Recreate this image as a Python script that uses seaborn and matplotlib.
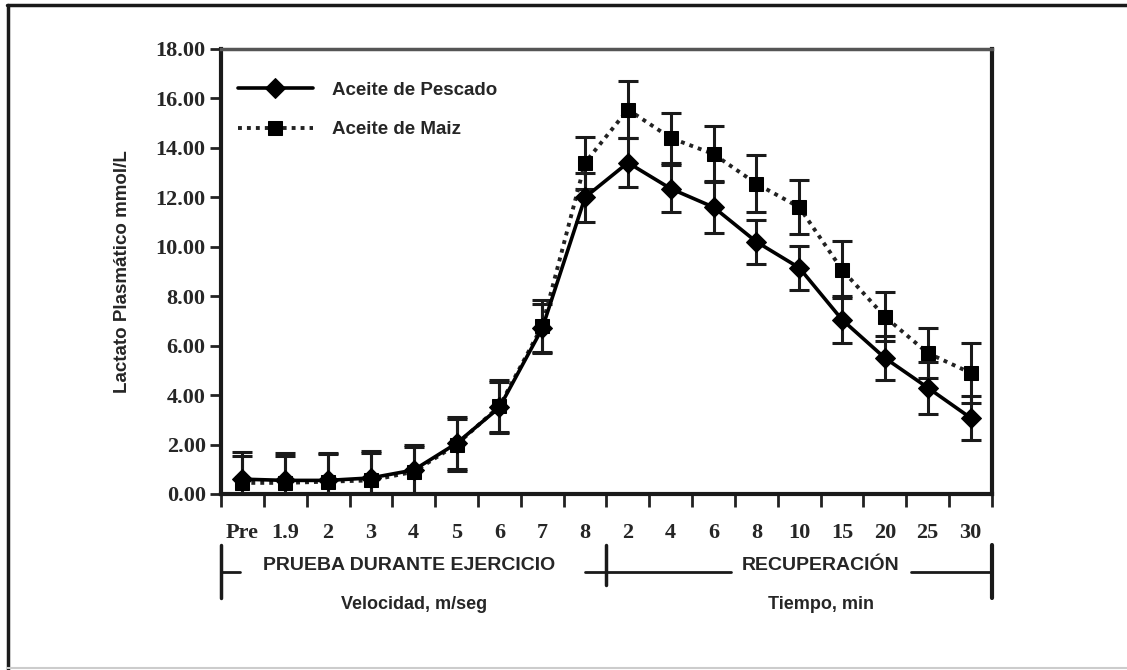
import numpy as np
import pandas as pd
import matplotlib
matplotlib.use("Agg")
import matplotlib.pyplot as plt
import matplotlib.transforms as mtransforms
from matplotlib.lines import Line2D
import seaborn as sns

labels = ["Pre", "1.9", "2", "3", "4", "5", "6", "7", "8",
          "2", "4", "6", "8", "10", "15", "20", "25", "30"]
fish = [0.6, 0.55, 0.55, 0.65, 0.97, 2.05, 3.5, 6.7, 12.0,
        13.4, 12.35, 11.6, 10.2, 9.15, 7.05, 5.5, 4.3, 3.08]
fish_err = [1.1, 1.1, 1.1, 1.1, 1.0, 1.05, 1.05, 1.0, 1.0,
            1.0, 0.95, 1.05, 0.9, 0.9, 0.95, 0.9, 1.05, 0.9]
maize = [0.45, 0.45, 0.5, 0.55, 0.9, 2.0, 3.55, 6.8, 13.4,
         15.55, 14.4, 13.75, 12.55, 11.6, 9.07, 7.17, 5.7, 4.9]
maize_err = [1.1, 1.1, 1.1, 1.1, 1.0, 1.05, 1.05, 1.05, 1.05,
             1.15, 1.0, 1.15, 1.15, 1.1, 1.15, 1.0, 1.0, 1.2]
series_names = ["Aceite de Pescado", "Aceite de Maiz"]

pos = np.arange(len(labels))
df_fish = pd.DataFrame({"pos": pos, "value": fish, "err": fish_err})
df_maize = pd.DataFrame({"pos": pos, "value": maize, "err": maize_err})

sns.set_style("white")
plt.rcParams['font.family'] = ['Liberation Sans', 'DejaVu Sans']

fig = plt.figure(figsize=(11.27, 6.7), dpi=100)
ax = fig.add_axes([0.1961, 0.2627, 0.6841, 0.6642])

# error bars first so lines/markers sit on top
ax.errorbar(df_maize["pos"], df_maize["value"], yerr=df_maize["err"], fmt="none",
            ecolor="#1a1a1a", elinewidth=2.2, capsize=7, capthick=2.2, zorder=2)
ax.errorbar(df_fish["pos"], df_fish["value"], yerr=df_fish["err"], fmt="none",
            ecolor="#1a1a1a", elinewidth=2.2, capsize=7, capthick=2.2, zorder=2)

sns.lineplot(data=df_maize, x="pos", y="value", ax=ax, color="#222222",
             linestyle=(0, (1, 1.3)), linewidth=2.8, marker="s", markersize=10,
             markeredgecolor="black", markerfacecolor="black",
             label=series_names[1], zorder=3)
sns.lineplot(data=df_fish, x="pos", y="value", ax=ax, color="black",
             linewidth=2.6, marker="D", markersize=10,
             markeredgecolor="black", markerfacecolor="black",
             label=series_names[0], zorder=4)

ax.set_xlim(-0.5, len(labels) - 0.5)
ax.set_ylim(0, 18)
ax.set_yticks(np.arange(0, 18.1, 2))
ax.set_yticklabels([f"{v:.2f}" for v in np.arange(0, 18.1, 2)],
                   fontfamily="Liberation Serif", fontweight="bold", fontsize=16)
ax.set_xticks(pos)
ax.set_xticklabels(labels, fontfamily="Liberation Serif", fontweight="bold", fontsize=16)
ax.set_xticks(np.arange(-0.5, len(labels), 1), minor=True)
ax.tick_params(axis="both", which="both", bottom=True, left=True)
ax.tick_params(axis="x", which="major", length=0, pad=21)
ax.tick_params(axis="x", which="minor", length=9, width=2, direction="out", color="#222222")
ax.tick_params(axis="y", which="major", length=8, width=2, direction="out", color="#222222", pad=3)
ax.set_xlabel("")
ax.set_ylabel("Lactato Plasmático mmol/L", fontsize=13.5, fontweight="bold", labelpad=18)

for side in ["left", "bottom", "right"]:
    ax.spines[side].set_linewidth(3)
    ax.spines[side].set_color("#1a1a1a")
ax.spines["top"].set_linewidth(2.5)
ax.spines["top"].set_color("#555555")

handles, lbls = ax.get_legend_handles_labels()
order = [lbls.index(n) for n in series_names]
ax.legend([handles[i] for i in order], [lbls[i] for i in order],
          loc="upper left", bbox_to_anchor=(0.0, 0.965), frameon=False,
          handlelength=4.0, handletextpad=1.0, labelspacing=1.2,
          prop={"weight": "bold", "size": 13.5})

# group annotations under the x axis
tr = mtransforms.blended_transform_factory(ax.transData, ax.transAxes)
kw = dict(transform=tr, clip_on=False, color="#1a1a1a")
ax.plot([-0.5, -0.5], [-0.115, -0.234], lw=2.5, **kw)
ax.plot([8.5, 8.5], [-0.115, -0.205], lw=2.5, **kw)
ax.plot([17.5, 17.5], [-0.115, -0.234], lw=3, **kw)
ax.plot([-0.5, -0.05], [-0.175, -0.175], lw=2, **kw)
ax.plot([8.0, 11.4], [-0.175, -0.175], lw=2, **kw)
ax.plot([15.6, 17.5], [-0.175, -0.175], lw=2, **kw)
ax.text(3.9, -0.16, "PRUEBA DURANTE EJERCICIO", transform=tr, ha="center", va="center",
        fontsize=14, fontweight="bold")
ax.text(13.5, -0.16, "RECUPERACIÓN", transform=tr, ha="center", va="center",
        fontsize=14, fontweight="bold")
ax.text(4.0, -0.248, "Velocidad, m/seg", transform=tr, ha="center", va="center",
        fontsize=13, fontweight="bold")
ax.text(13.5, -0.248, "Tiempo, min", transform=tr, ha="center", va="center",
        fontsize=13, fontweight="bold")

# outer frame of the figure
fig.add_artist(Line2D([0.006, 1.0], [0.993, 0.993], color="#1a1a1a", lw=2.5, transform=fig.transFigure))
fig.add_artist(Line2D([0.007, 0.007], [0.0, 0.993], color="#1a1a1a", lw=2.5, transform=fig.transFigure))
fig.add_artist(Line2D([0.006, 1.0], [0.003, 0.003], color="#cccccc", lw=1.5, transform=fig.transFigure))

fig.savefig("out.png", dpi=100)
